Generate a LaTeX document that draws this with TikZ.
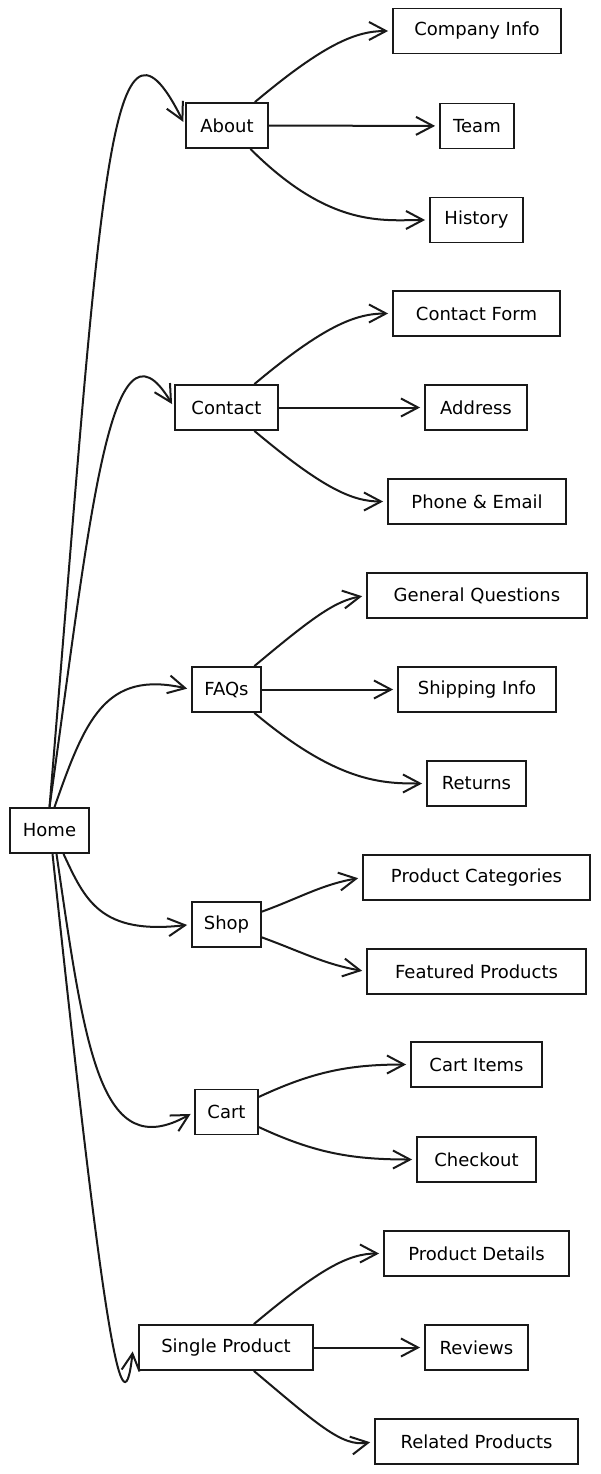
\documentclass[tikz,border=0pt]{standalone}
\usepackage{fontspec}
\setmainfont{DejaVu Sans}
\usetikzlibrary{arrows.meta}

\begin{document}
\begin{tikzpicture}[
    x=1pt, y=1pt,
    page/.style={draw=black!90, line width=1.8pt, minimum height=45pt, inner xsep=8pt, font=\fontsize{18}{21}\selectfont},
    link/.style={draw=black!90, line width=2pt, -{Straight Barb[length=17pt,width=18pt,line width=2pt]}, shorten >=4pt},
    sweep/.style={out looseness=1.5, in looseness=0.6},
]
\useasboundingbox (0,0) rectangle (600,-1474);

% root
\node[page, minimum width=79pt]  (home)     at (49.5,-830.5)  {Home};

% second level
\node[page, minimum width=82pt]  (about)    at (227,-125.5)   {About};
\node[page, minimum width=103pt] (contact)  at (226.5,-407.5) {Contact};
\node[page, minimum width=69pt]  (faqs)     at (226.5,-689.5) {FAQs};
\node[page, minimum width=69pt]  (shop)     at (226.5,-924.5) {Shop};
\node[page, minimum width=63pt]  (cart)     at (226.5,-1112)  {Cart};
\node[page, minimum width=174pt] (single)   at (226,-1347.5)  {Single Product};

% leaves
\node[page, minimum width=168pt] (cinfo)    at (477,-31)      {Company Info};
\node[page, minimum width=74pt]  (team)     at (477,-126)     {Team};
\node[page, minimum width=93pt]  (history)  at (476.5,-220)   {History};
\node[page, minimum width=167pt] (cform)    at (476.5,-313.5) {Contact Form};
\node[page, minimum width=102pt] (address)  at (476,-407.5)   {Address};
\node[page, minimum width=178pt] (phone)    at (477,-501.5)   {Phone \& Email};
\node[page, minimum width=220pt] (general)  at (477,-595.5)   {General Questions};
\node[page, minimum width=158pt] (shipping) at (477,-689.5)   {Shipping Info};
\node[page, minimum width=99pt]  (returns)  at (476.5,-783.5)  {Returns};
\node[page, minimum width=227pt] (pcat)     at (476.5,-877.5)  {Product Categories};
\node[page, minimum width=219pt] (featured) at (476.5,-971.5)  {Featured Products};
\node[page, minimum width=131pt] (citems)   at (476.5,-1064.5) {Cart Items};
\node[page, minimum width=119pt] (checkout) at (476.5,-1159.5) {Checkout};
\node[page, minimum width=185pt] (pdetails) at (476.5,-1253.5) {Product Details};
\node[page, minimum width=103pt] (reviews)  at (476.5,-1347.5) {Reviews};
\node[page, minimum width=203pt] (related)  at (476.5,-1441.5) {Related Products};

% home to sections
\draw[link] (home.north) .. controls (100,-200) and (108,30) .. (about.west);
\draw[link] (home.north) .. controls (90,-520) and (110,-300) .. (contact.west);
\draw[link] ([xshift=5pt]home.north) .. controls (85,-720) and (105,-670) .. (faqs.west);
\draw[link] ([xshift=14pt]home.south) .. controls (85,-900) and (100,-935) .. (shop.west);
\draw[link] ([xshift=7pt]home.south) .. controls (85,-1050) and (100,-1165) .. (cart.west);
\draw[link] ([xshift=3pt]home.south) .. controls (100,-1300) and (122,-1450) .. ([xshift=-5pt]single.west);

% sections to leaves
\draw[link] (about) to[out=40, in=180, sweep] (cinfo.west);
\draw[link] (about) -- (team);
\draw[link] (about) to[out=-45, in=180, sweep] (history.west);

\draw[link] (contact) to[out=40, in=180, sweep] (cform.west);
\draw[link] (contact) -- (address);
\draw[link] (contact) to[out=-40, in=180, sweep] (phone.west);

\draw[link] (faqs) to[out=40, in=190, sweep] (general.west);
\draw[link] (faqs) -- (shipping);
\draw[link] (faqs) to[out=-40, in=180, sweep] (returns.west);

\draw[link] (shop) to[out=20, in=190] (pcat.west);
\draw[link] (shop) to[out=-20, in=170] (featured.west);

\draw[link] (cart) to[out=25, in=180] (citems.west);
\draw[link] (cart) to[out=-25, in=180] (checkout.west);

\draw[link] (single) to[out=40, in=180, sweep] (pdetails.west);
\draw[link] (single) -- (reviews);
\draw[link] (single) to[out=-40, in=190, sweep] (related.west);
\end{tikzpicture}
\end{document}
